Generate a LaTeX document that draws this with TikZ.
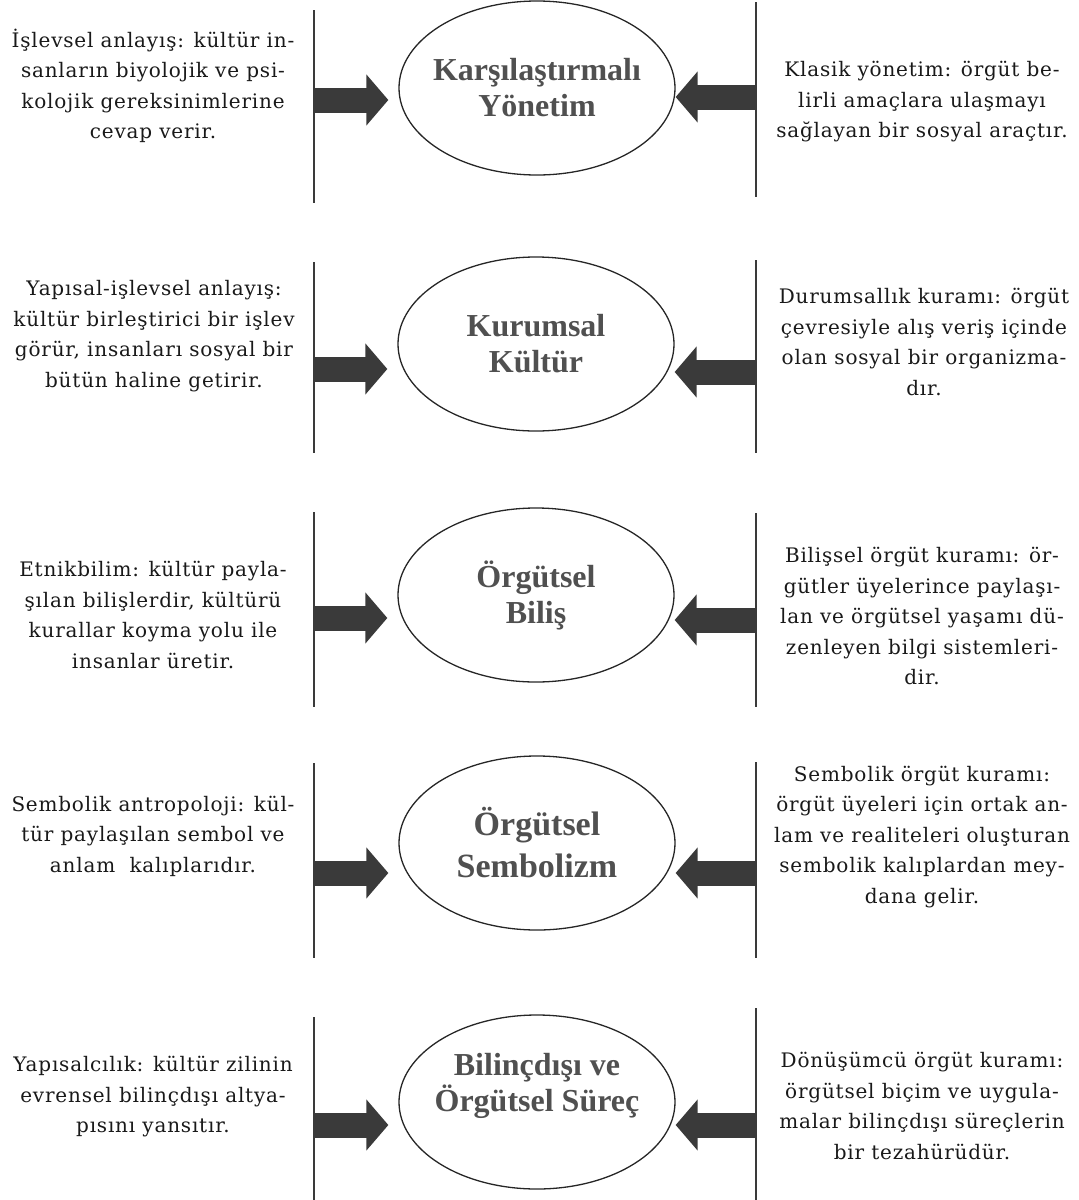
\documentclass[tikz,border=0pt]{standalone}
\usepackage{fontspec}
\setmainfont{DejaVu Serif}[LetterSpace=4]
\newfontfamily\titlefont{Liberation Serif}
\usetikzlibrary{arrows.meta,shapes.geometric}

\definecolor{bargray}{HTML}{3A3A3A}
\definecolor{titlegray}{HTML}{505050}

\tikzset{
  concept/.style={ellipse, draw=black!85, line width=1.3pt, minimum width=276pt,
    minimum height=174pt, inner ysep=0pt, inner xsep=-15pt, align=center, text=titlegray,
    font=\titlefont\bfseries\fontsize{32}{36}\selectfont},
  theory/.style={align=center, font=\fontsize{20}{30.5}\selectfont, text=black!90},
  bar/.style={draw=bargray, line width=2pt},
  push/.style={draw=bargray, line width=25pt, -{Triangle[length=22pt,width=50pt]}},
}

\begin{document}
\begin{tikzpicture}[x=1pt,y=-1pt]
\useasboundingbox (0,0) rectangle (1079,1200);

% row 1
\node[concept] (e1) at (537,88) {Karşılaştırmalı\\Yönetim};
\node[theory] (l1) at (153,86) {İşlevsel anlayış: kültür in-\\sanların biyolojik ve psi-\\kolojik gereksinimlerine\\cevap verir.};
\node[theory] (r1) at (922,102) {Klasik yönetim: örgüt be-\\lirli amaçlara ulaşmayı\\sağlayan bir sosyal araçtır.};
\coordinate (lt1) at (314,10);
\coordinate (lb1) at (314,203);
\coordinate (rt1) at (756,2);
\coordinate (rb1) at (756,197);
\draw[bar] (lt1) -- (lb1);
\draw[bar] (rt1) -- (rb1);
\coordinate (la1) at (314,100);
\coordinate (ra1) at (756,97);
\draw[push,shorten >=10pt] (la1) -- (la1 -| e1.west);
\draw[push] (ra1) -- (ra1 -| e1.east);

% row 2
\node[concept] (e2) at (536,344) {Kurumsal\\Kültür};
\node[theory] (l2) at (154,336) {Yapısal-işlevsel anlayış:\\kültür birleştirici bir işlev\\görür, insanları sosyal bir\\bütün haline getirir.};
\node[theory] (r2) at (924,342) {Durumsallık kuramı: örgüt\\çevresiyle alış veriş içinde\\olan sosyal bir organizma-\\dır.};
\coordinate (lt2) at (314,262);
\coordinate (lb2) at (314,453);
\coordinate (rt2) at (756,260);
\coordinate (rb2) at (756,453);
\draw[bar] (lt2) -- (lb2);
\draw[bar] (rt2) -- (rb2);
\coordinate (la2) at (314,369);
\coordinate (ra2) at (756,372);
\draw[push,shorten >=10pt] (la2) -- (la2 -| e2.west);
\draw[push] (ra2) -- (ra2 -| e2.east);

% row 3
\node[concept] (e3) at (536,595) {Örgütsel\\Biliş};
\node[theory] (l3) at (153,615) {Etnikbilim: kültür payla-\\şılan bilişlerdir, kültürü\\kurallar koyma yolu ile\\insanlar üretir.};
\node[theory] (r3) at (922,616) {Bilişsel örgüt kuramı: ör-\\gütler üyelerince paylaşı-\\lan ve örgütsel yaşamı dü-\\zenleyen bilgi sistemleri-\\dir.};
\coordinate (lt3) at (314,512);
\coordinate (lb3) at (314,707);
\coordinate (rt3) at (756,513);
\coordinate (rb3) at (756,707);
\draw[bar] (lt3) -- (lb3);
\draw[bar] (rt3) -- (rb3);
\coordinate (la3) at (314,618);
\coordinate (ra3) at (756,620);
\draw[push,shorten >=10pt] (la3) -- (la3 -| e3.west);
\draw[push] (ra3) -- (ra3 -| e3.east);

% row 4
\node[concept,font=\titlefont\bfseries\fontsize{34}{42}\selectfont] (e4) at (537,843) {Örgütsel\\Sembolizm};
\node[theory] (l4) at (153,836) {Sembolik antropoloji: kül-\\tür paylaşılan sembol ve\\anlam~~kalıplarıdır.};
\node[theory] (r4) at (922,837) {Sembolik örgüt kuramı:\\örgüt üyeleri için ortak an-\\lam ve realiteleri oluşturan\\sembolik kalıplardan mey-\\dana gelir.};
\coordinate (lt4) at (314,763);
\coordinate (lb4) at (314,958);
\coordinate (rt4) at (756,762);
\coordinate (rb4) at (756,958);
\draw[bar] (lt4) -- (lb4);
\draw[bar] (rt4) -- (rb4);
\coordinate (la4) at (314,873);
\coordinate (ra4) at (756,873);
\draw[push,shorten >=10pt] (la4) -- (la4 -| e4.west);
\draw[push] (ra4) -- (ra4 -| e4.east);

% row 5
\node[concept,text depth=39pt] (e5) at (537,1102) {Bilinçdışı ve\\Örgütsel Süreç};
\node[theory] (l5) at (153,1097) {Yapısalcılık: kültür zilinin\\evrensel bilinçdışı altya-\\pısını yansıtır.};
\node[theory] (r5) at (922,1106) {Dönüşümcü örgüt kuramı:\\örgütsel biçim ve uygula-\\malar bilinçdışı süreçlerin\\bir tezahürüdür.};
\coordinate (lt5) at (314,1017);
\coordinate (lb5) at (314,1200);
\coordinate (rt5) at (756,1008);
\coordinate (rb5) at (756,1200);
\draw[bar] (lt5) -- (lb5);
\draw[bar] (rt5) -- (rb5);
\coordinate (la5) at (314,1125);
\coordinate (ra5) at (756,1125);
\draw[push,shorten >=10pt] (la5) -- (la5 -| e5.west);
\draw[push] (ra5) -- (ra5 -| e5.east);
\end{tikzpicture}
\end{document}
